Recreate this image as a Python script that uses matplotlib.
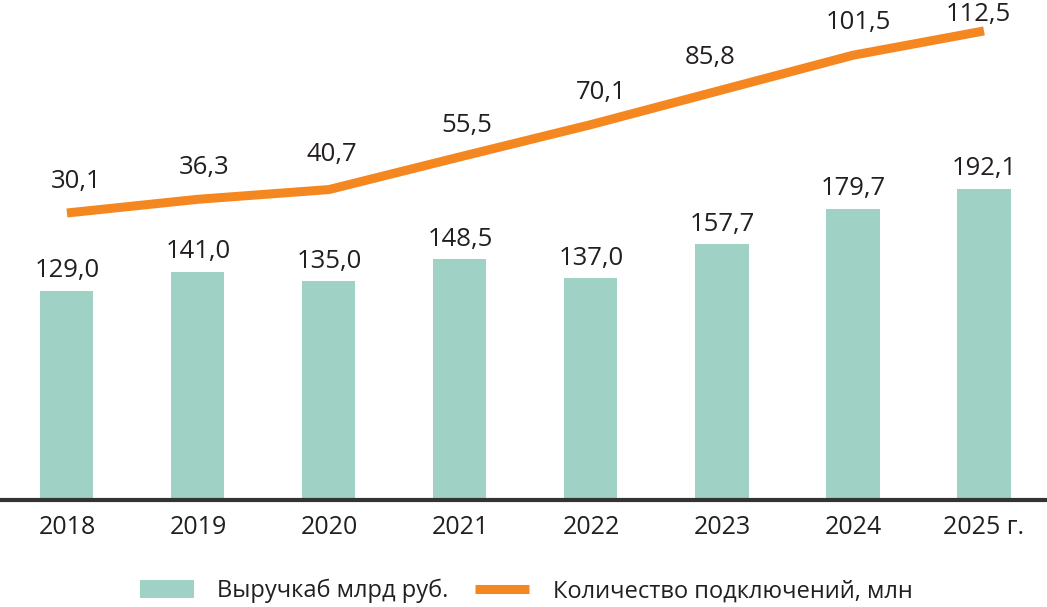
import numpy as np
import matplotlib.pyplot as plt

# ----------------------------------------------------------------------
# DATEN
# ----------------------------------------------------------------------
jahre    = ["2018", "2019", "2020", "2021", "2022", "2023", "2024", "2025 г."]
umsatz   = [129.0, 141.0, 135.0, 148.5, 137.0, 157.7, 179.7, 192.1]   # млрд руб.
anschl   = [30.1, 36.3, 40.7, 55.5, 70.1, 85.8, 101.5, 112.5]         # млн

label_bar  = "Выручкаб млрд руб."
label_line = "Количество подключений, млн"

# ----------------------------------------------------------------------
# STIL
# ----------------------------------------------------------------------
C_BAR  = "#a0d1c5"
C_LINE = "#f58720"
C_TXT  = "#231f20"

plt.rcParams.update({"font.family": ["Open Sans", "DejaVu Sans"],
                     "font.size": 17})

fig = plt.figure(figsize=(10.47, 6.07), dpi=100)
ax = fig.add_axes([0.0, 107 / 607, 1.0, 500 / 607])
ax2 = ax.twinx()

x = np.arange(len(jahre))

bars = ax.bar(x, umsatz, width=0.405, color=C_BAR, label=label_bar, zorder=2)
ln, = ax2.plot(x, anschl, color=C_LINE, lw=6.5, solid_joinstyle="miter",
               solid_capstyle="butt", label=label_line, zorder=3)

ax.set_xlim(-0.511, 7.481)
ax.set_ylim(0, 308.6)
ax2.set_ylim(-99.8, 126.5)

# Beschriftungen
for xi, v in zip(x, umsatz):
    ax.annotate(f"{v:.1f}".replace(".", ","), (xi, v), xytext=(0, 20),
                textcoords="offset pixels", ha="center", va="center",
                fontsize=18.5, color=C_TXT)

line_dy = [31, 32, 35, 31, 32, 32, 33, 16]
line_dx = [9, 6, 3, 7, 10, -12, 5, -6]
for xi, v, dx, dy in zip(x, anschl, line_dx, line_dy):
    ax2.annotate(f"{v:.1f}".replace(".", ","), (xi, v), xytext=(dx, dy),
                 textcoords="offset pixels", ha="center", va="center",
                 fontsize=18.5, color=C_TXT)

# Achsen
for a in (ax, ax2):
    for s in ("top", "right", "left"):
        a.spines[s].set_visible(False)
    a.set_yticks([])
ax2.spines["bottom"].set_visible(False)
ax.spines["bottom"].set_linewidth(3)
ax.spines["bottom"].set_color("#333333")
ax.set_xticks(x)
ax.set_xticklabels(jahre, color=C_TXT, fontsize=18)
ax.tick_params(axis="x", length=0, pad=11)

fig.legend(handles=[bars, ln], loc="center", ncol=2,
           bbox_to_anchor=(526 / 1047, 1 - 591 / 607), frameon=False,
           handlelength=2.3, handleheight=0.8, handletextpad=1.0,
           columnspacing=1.1, fontsize=17, labelcolor=C_TXT)

fig.savefig("out.png", dpi=100)
